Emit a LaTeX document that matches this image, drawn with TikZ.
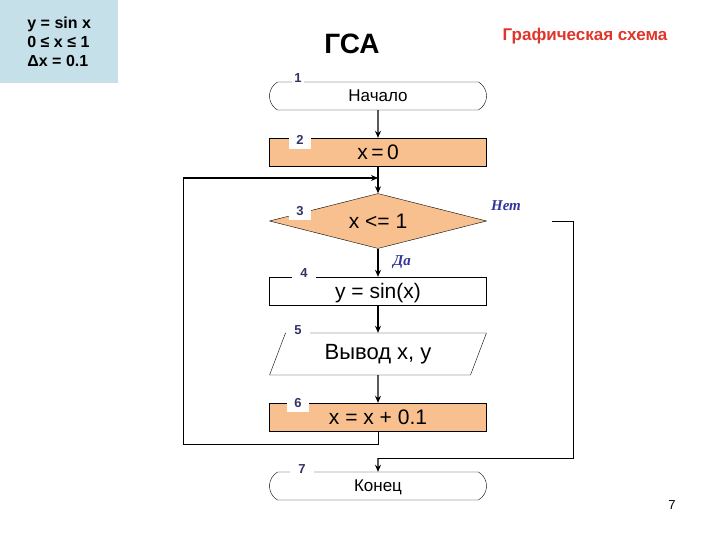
\documentclass[tikz,border=0pt]{standalone}
\usepackage{fontspec}
\setmainfont{Liberation Sans}
\newfontfamily\serifit{Liberation Serif}
\usetikzlibrary{shapes.geometric,shapes.misc,arrows.meta,positioning}
\definecolor{blockfill}{HTML}{F9C08F}
\definecolor{numblue}{HTML}{333366}
\definecolor{condblue}{HTML}{333399}
\definecolor{headred}{HTML}{E0352B}
\definecolor{notefill}{HTML}{C5E0E8}
\tikzset{font={\fontsize{17pt}{19pt}\selectfont}}
\tikzstyle{term}=[draw,rounded rectangle,rounded rectangle arc length=120,minimum width=217pt,minimum height=28pt,inner sep=0pt,text depth=-4pt]
\tikzstyle{act}=[draw,rectangle,minimum width=217pt,minimum height=28pt,inner sep=0pt,text depth=-4pt,font={\fontsize{21pt}{23pt}\selectfont}]
\tikzstyle{cond}=[draw,diamond,aspect=3.95,minimum width=217pt,minimum height=55pt,inner sep=0pt,fill=blockfill,font={\fontsize{21pt}{23pt}\selectfont}]
\tikzstyle{io}=[draw,trapezium,trapezium left angle=65,trapezium right angle=115,minimum width=217pt,minimum height=42pt,inner sep=0pt,trapezium stretches=true,font={\fontsize{22pt}{24pt}\selectfont}]
\tikzstyle{num}=[fill=white,inner sep=2pt,text=numblue,font={\bfseries\fontsize{13pt}{15pt}\selectfont}]
\tikzstyle{yesno}=[fill=white,inner sep=2pt,text=condblue,font={\serifit\bfseries\itshape\fontsize{15pt}{17pt}\selectfont}]
\tikzstyle{flow}=[line width=1.2pt,-{Stealth[length=7pt,width=6pt]}]
\begin{document}
\begin{tikzpicture}[x=1pt,y=-1pt]
    \useasboundingbox (0,0) rectangle (720,540);
    % note and headings
    \node[fill=notefill,minimum width=118pt,minimum height=83pt,anchor=north west,align=left,font={\bfseries\fontsize{16pt}{19pt}\selectfont}] (note) at (0,0) {y = sin x\\0 ≤ x ≤ 1\\Δx = 0.1};
    \node[font={\bfseries\fontsize{28pt}{30pt}\selectfont}] (title) at (352,44) {ГСА};
    \node[text=headred,font={\bfseries\fontsize{17pt}{19pt}\selectfont}] (subtitle) at (585,36) {Графическая схема};
    \node[font={\fontsize{13pt}{15pt}\selectfont}] (page) at (672,505) {7};
    % blocks
    \node[term] (start) at (378,96) {Начало};
    \node[act,fill=blockfill] (init) at (378,152) {x\,=\,0};
    \node[cond] (test) at (378,221) {x <= 1};
    \node[act] (calc) at (378,291) {y = sin(x)};
    \node[io] (out) at (378,354) {Вывод x, y};
    \node[act,fill=blockfill] (step) at (378,417) {x = x + 0.1};
    \node[term] (stop) at (378,486) {Конец};
    % connectors
    \coordinate (merge) at (378,178);
    \coordinate (back1) at (378,444);
    \coordinate (back2) at (183,444);
    \coordinate (back3) at (183,178);
    \coordinate (no1) at (552,222);
    \coordinate (no2) at (573,222);
    \coordinate (no3) at (573,458);
    \coordinate (no4) at (378,458);
    \draw[flow] (start) -- (init);
    \draw[flow] (init) -- (test);
    \draw[flow] (test) -- (calc);
    \draw[flow] (calc) -- (out);
    \draw[flow] (out) -- (step);
    \draw[line width=1pt] (step) -- (back1) -- (back2) -- (back3);
    \draw[flow] (back3) -- (merge);
    \draw[line width=1pt] (no1) -- (no2) -- (no3) -- (no4);
    \draw[flow] (no4) -- (stop);
    % labels
    \node[yesno] (no) at (506,206) {Нет};
    \node[yesno,inner xsep=8pt] (yes) at (402,262) {Да};
    \node[num] (n1) at (298,78) {1};
    \node[num,minimum width=22pt,minimum height=18pt] (n2) at (300,140) {2};
    \node[num,minimum width=22pt,minimum height=18pt] (n3) at (300,211) {3};
    \node[num,inner xsep=8pt] (n4) at (304,273) {4};
    \node[num,inner xsep=8pt] (n5) at (298,330) {5};
    \node[num,minimum width=22pt,minimum height=18pt] (n6) at (298,403) {6};
    \node[num,inner xsep=8pt] (n7) at (302,469) {7};
\end{tikzpicture}
\end{document}
